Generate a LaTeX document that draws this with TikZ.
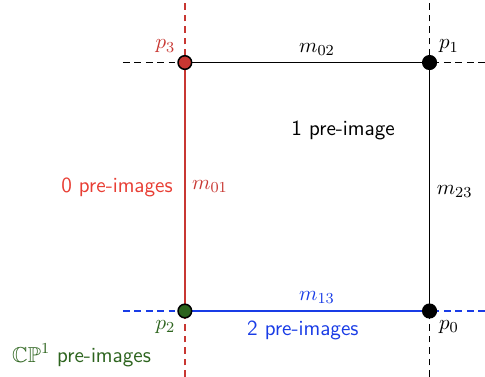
\documentclass[tikz,border=0pt]{standalone}
\usepackage{amssymb}
\usepackage{tikz}

\definecolor{edgered}{RGB}{200,55,50}
\definecolor{textred}{RGB}{232,62,52}
\definecolor{edgeblue}{RGB}{25,60,230}
\definecolor{darkgreen}{RGB}{45,100,30}

\tikzset{
  vertex/.style={circle, draw=black, thick, inner sep=0pt, minimum size=2.5mm},
  ext/.style={line width=1pt, dash pattern=on 3.5pt off 2.5pt},
  side/.style={line width=1pt},
  lbl/.style={font=\fontsize{11.3}{13}\selectfont\sffamily}
}

\begin{document}
\begin{tikzpicture}[font=\fontsize{11.3}{13}\selectfont]
    \useasboundingbox (-3.40,-1.21) rectangle (5.52,5.72);

    \coordinate (c2l) at (-1.14,0);
    \coordinate (c0r) at (5.52,0);
    \coordinate (c3l) at (-1.14,4.57);
    \coordinate (c1r) at (5.52,4.57);
    \coordinate (c2d) at (0,-1.21);
    \coordinate (c3u) at (0,5.72);
    \coordinate (c0d) at (4.5,-1.21);
    \coordinate (c1u) at (4.5,5.72);

    % dashed extensions
    \draw[ext, edgered] (c2d) -- (c3u);
    \draw[ext] (c0d) -- (c1u);
    \draw[ext, edgeblue] (c2l) -- (c0r);
    \draw[ext] (c3l) -- (c1r);

    \node (P2) at (0,0) {};
    \node (P0) at (4.5,0) {};
    \node (P3) at (0,4.57) {};
    \node (P1) at (4.5,4.57) {};

    % sides of the square
    \draw[side, edgered] (P2.center) -- (P3.center) node [pos=0.5,right,text=edgered] (m01) {$m_{01}$};
    \draw[side] (P3.center) -- (P1.center) node [pos=0.54,above] (m02) {$m_{02}$};
    \draw[side] (P0.center) -- (P1.center) node [pos=0.48,right] (m23) {$m_{23}$};
    \draw[side, edgeblue] (P2.center) -- (P0.center) node [pos=0.54,above,text=edgeblue] (m13) {$m_{13}$};

    \node[vertex, fill=edgered] (p3) at (P3) {};
    \node[vertex, fill=black] (p1) at (P1) {};
    \node[vertex, fill=darkgreen] (p2) at (P2) {};
    \node[vertex, fill=black] (p0) at (P0) {};

    \node[above left, text=edgered, inner sep=2pt] at (p3.north west) {$p_{3}$};
    \node[above right, inner sep=2pt] at (p1.north east) {$p_{1}$};
    \node[below left, text=darkgreen, inner sep=2pt] at (p2.south west) {$p_{2}$};
    \node[below right, inner sep=2pt] at (p0.south east) {$p_{0}$};

    \node[lbl, text=textred, left] (zero) at (-0.1,2.28) {0 pre-images};
    \node[lbl] (one) at (2.91,3.33) {1 pre-image};
    \node[lbl, text=edgeblue, below] (two) at (2.17,-0.05) {2 pre-images};
    \node[lbl, text=darkgreen] (cp) at (-1.90,-0.81) {$\mathbb{CP}^{1}$ pre-images};
\end{tikzpicture}
\end{document}
